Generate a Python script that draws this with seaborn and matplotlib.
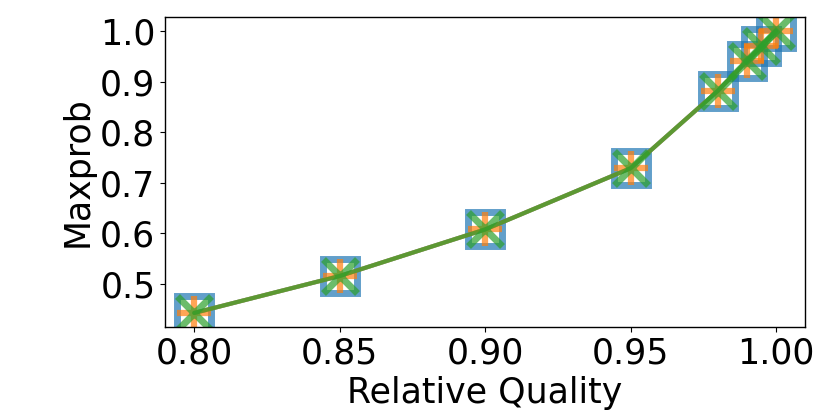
import matplotlib
matplotlib.use("Agg")
import matplotlib.pyplot as plt
import seaborn as sns
import pandas as pd

relative_quality = [0.80, 0.85, 0.90, 0.95, 0.98, 0.99, 0.995, 1.00]
maxprob_a = [0.443, 0.516, 0.608, 0.729, 0.882, 0.941, 0.970, 1.000]
maxprob_b = [0.443, 0.516, 0.608, 0.729, 0.882, 0.941, 0.970, 1.000]
maxprob_c = [0.443, 0.516, 0.608, 0.729, 0.882, 0.941, 0.970, 1.000]

sns.set_style("ticks", {"axes.edgecolor": "black", "xtick.color": "black",
                        "ytick.color": "black", "axes.labelcolor": "black"})
plt.rcParams['font.family'] = ['DejaVu Sans']

fig = plt.figure(figsize=(8.3, 4.15), dpi=100)
ax = fig.add_axes([0.199, 0.212, 0.771, 0.747])

df = pd.DataFrame({"q": relative_quality, "p": maxprob_a})
sns.lineplot(data=df, x="q", y="p", ax=ax, color="tab:blue", marker="s",
             markerfacecolor="none", markeredgecolor="tab:blue", markersize=24,
             markeredgewidth=5, linewidth=3, alpha=0.7)
df = pd.DataFrame({"q": relative_quality, "p": maxprob_b})
sns.lineplot(data=df, x="q", y="p", ax=ax, color="tab:orange", marker="+",
             markeredgecolor="tab:orange", markersize=24,
             markeredgewidth=4.5, linewidth=3, alpha=0.7)
df = pd.DataFrame({"q": relative_quality, "p": maxprob_c})
sns.lineplot(data=df, x="q", y="p", ax=ax, color="tab:green", marker="x",
             markeredgecolor="tab:green", markersize=24,
             markeredgewidth=5, linewidth=3, alpha=0.7)

ax.set_xlabel("Relative Quality", fontsize=25)
ax.set_ylabel("Maxprob", fontsize=25)
ax.tick_params(labelsize=25)
ax.set_xticks([0.80, 0.85, 0.90, 0.95, 1.00])
ax.set_xticklabels(["0.80", "0.85", "0.90", "0.95", "1.00"])
ax.set_yticks([0.5, 0.6, 0.7, 0.8, 0.9, 1.0])
ax.set_yticklabels(["0.5", "0.6", "0.7", "0.8", "0.9", "1.0"])
for s in ax.spines.values():
    s.set_visible(True)
    s.set_linewidth(1.0)

fig.savefig("out.png", dpi=100)
